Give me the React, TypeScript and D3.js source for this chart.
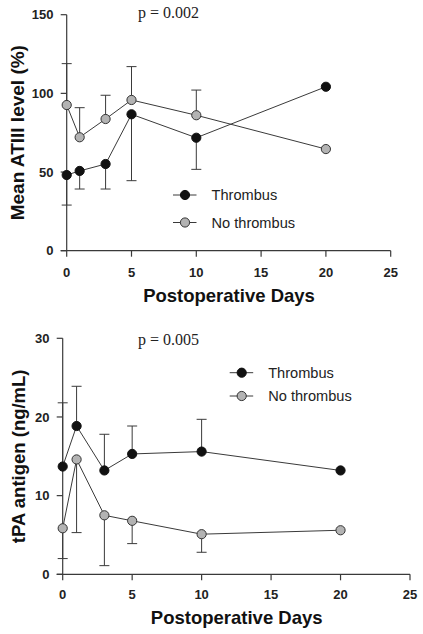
import React from "react";
import * as d3 from "d3";

const days = [0, 1, 3, 5, 10, 20];
const xTicks = [0, 5, 10, 15, 20, 25];

// Panel A: ATIII
const atThrombus = [48.1, 50.7, 55.1, 86.7, 71.8, 104.2];
const atThrombusLow = [29, 39.2, 39.2, 44.5, 51.7, null];
const atNoThrombus = [92.6, 72.1, 83.7, 95.8, 86.1, 64.6];
const atNoThrombusHigh = [118.9, 90.9, 98.8, 117, 102.1, null];
const atYTicks = [0, 50, 100, 150];

// Panel B: tPA
const tpaThrombus = [13.7, 18.85, 13.2, 15.3, 15.6, 13.2];
const tpaThrombusHigh = [21.8, 23.9, 17.8, 18.85, 19.7, null];
const tpaNoThrombus = [5.85, 14.6, 7.5, 6.8, 5.1, 5.6];
const tpaNoThrombusLow = [2.0, 5.3, 1.1, 3.9, 2.8, null];
const tpaYTicks = [0, 10, 20, 30];

const seriesNames = ["Thrombus", "No thrombus"];
const xTitle = "Postoperative Days";

const AXIS = "#3a3a3a";
const BLACK = "#111";
const GRAY = "#b3b3b3";
const SANS = "Liberation Sans, Arial, Helvetica, sans-serif";
const SERIF = "Liberation Serif, Times New Roman, serif";

type PanelProps = {
  x0: number; x1: number; y0: number; y1: number; yMax: number;
  yTicks: number[]; yTitle: string; yTitleX: number; yTitleSize: number; tickRight: number;
  black: number[]; blackErr: (number | null)[];
  gray: number[]; grayErr: (number | null)[];
  pText: string; pY: number;
  legX: number; legY: number; legGap: number;
  xTickY: number; xTitleY: number; xTitleX: number;
};

function Panel(p: PanelProps) {
  const x = d3.scaleLinear().domain([0, 25]).range([p.x0, p.x1]);
  const y = d3.scaleLinear().domain([0, p.yMax]).range([p.y0, p.y1]);
  const line = d3.line<number>().x((_, i) => x(days[i])).y((d) => y(d));
  const r = 4.6;
  const errBars = (vals: number[], errs: (number | null)[]) =>
    errs.map((e, i) =>
      e == null ? null : (
        <g key={i} stroke={AXIS} strokeWidth={1}>
          <line x1={x(days[i])} x2={x(days[i])} y1={y(vals[i])} y2={y(e)} />
          <line x1={x(days[i]) - 5} x2={x(days[i]) + 5} y1={y(e)} y2={y(e)} />
        </g>
      )
    );
  return (
    <g>
      {/* axes */}
      <line x1={p.x0} x2={p.x0} y1={y(p.yMax)} y2={p.y0} stroke={AXIS} strokeWidth={1.2} />
      <line x1={p.x0 - 6} x2={p.x1} y1={p.y0} y2={p.y0} stroke={AXIS} strokeWidth={1.2} />
      {p.yTicks.map((t) => (
        <g key={"y" + t}>
          <line x1={p.x0 - 6} x2={p.x0} y1={y(t)} y2={y(t)} stroke={AXIS} strokeWidth={1.2} />
          <text x={p.tickRight} y={y(t) + 4.6} textAnchor="end" fontFamily={SANS} fontWeight="bold" fontSize={13} fill="#222">{t}</text>
        </g>
      ))}
      {xTicks.map((t) => (
        <g key={"x" + t}>
          <line x1={x(t)} x2={x(t)} y1={p.y0} y2={p.y0 + 6} stroke={AXIS} strokeWidth={1.2} />
          <text x={x(t)} y={p.xTickY} textAnchor="middle" fontFamily={SANS} fontWeight="bold" fontSize={13} fill="#222">{t}</text>
        </g>
      ))}
      <text x={p.xTitleX} y={p.xTitleY} textAnchor="middle" fontFamily={SANS} fontWeight="bold" fontSize={18.5} fill="#111">{xTitle}</text>
      <text transform={`translate(${p.yTitleX},${(p.y0 + y(p.yMax)) / 2}) rotate(-90)`} textAnchor="middle" fontFamily={SANS} fontWeight="bold" fontSize={p.yTitleSize} fill="#111">{p.yTitle}</text>
      <text x={138} y={p.pY} fontFamily={SERIF} fontSize={16} fill="#222">{p.pText}</text>
      {/* error bars */}
      {errBars(p.black, p.blackErr)}
      {errBars(p.gray, p.grayErr)}
      {/* lines */}
      <path d={line(p.gray) || ""} fill="none" stroke={AXIS} strokeWidth={1} />
      <path d={line(p.black) || ""} fill="none" stroke={AXIS} strokeWidth={1} />
      {p.gray.map((v, i) => (
        <circle key={"g" + i} cx={x(days[i])} cy={y(v)} r={r} fill={GRAY} stroke="#333" strokeWidth={1} />
      ))}
      {p.black.map((v, i) => (
        <circle key={"b" + i} cx={x(days[i])} cy={y(v)} r={r} fill={BLACK} stroke="#111" strokeWidth={1} />
      ))}
      {/* legend */}
      {seriesNames.map((n, i) => (
        <g key={n} transform={`translate(${p.legX},${p.legY + i * p.legGap})`}>
          <line x1={-12} x2={11.5} y1={0} y2={0} stroke={AXIS} strokeWidth={1} />
          <circle cx={0} cy={0} r={r} fill={i === 0 ? BLACK : GRAY} stroke={i === 0 ? "#111" : "#333"} strokeWidth={1} />
          <text x={26.5} y={5.3} fontFamily={SANS} fontSize={14.6} fill="#222">{n}</text>
        </g>
      ))}
    </g>
  );
}

export default function App() {
  return (
    <svg width={423} height={634} style={{ position: "absolute", left: 0, top: 0, background: "#fff" }}>
      <rect width={423} height={634} fill="#fff" />
      <Panel
        x0={66.7} x1={390.7} y0={250.7} y1={14.7} yMax={150}
        yTicks={atYTicks} yTitle="Mean ATIII level (%)" yTitleX={23.5} yTitleSize={19} tickRight={53.5}
        black={atThrombus} blackErr={atThrombusLow}
        gray={atNoThrombus} grayErr={atNoThrombusHigh}
        pText="p = 0.002" pY={18.3}
        legX={185} legY={195} legGap={27.5}
        xTickY={276.5} xTitleY={301.5} xTitleX={229}
      />
      <Panel
        x0={62.7} x1={410} y0={574.3} y1={338.3} yMax={30}
        yTicks={tpaYTicks} yTitle="tPA antigen (ng/mL)" yTitleX={25} yTitleSize={18.5} tickRight={49.5}
        black={tpaThrombus} blackErr={tpaThrombusHigh}
        gray={tpaNoThrombus} grayErr={tpaNoThrombusLow}
        pText="p = 0.005" pY={344.8}
        legX={241.7} legY={372.7} legGap={23.3}
        xTickY={598.8} xTitleY={624} xTitleX={236.7}
      />
    </svg>
  );
}
